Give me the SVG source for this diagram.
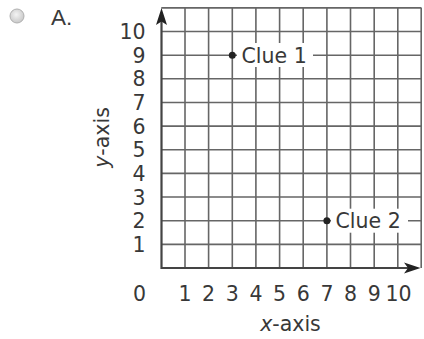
<svg xmlns="http://www.w3.org/2000/svg" width="424" height="339" viewBox="0 0 424 339">
<defs>
<radialGradient id="rg" cx="0.45" cy="0.4" r="0.6">
<stop offset="0" stop-color="#f4f4f4"/>
<stop offset="1" stop-color="#c8c8c8"/>
</radialGradient>
<style>
.g{stroke:#666;stroke-width:1.6;fill:none}
.ax{stroke:#444;stroke-width:2.2;fill:none}
.t{font-family:"DejaVu Sans",Verdana,sans-serif;font-size:20.5px;fill:#383838}
.ty{text-anchor:end}
.tx{text-anchor:middle}
</style>
</defs>
<rect width="424" height="339" fill="#fff"/>
<g id="option">
<circle cx="17" cy="16" r="7" fill="url(#rg)" stroke="#b0b0b0" stroke-width="1"/>
<text x="51" y="24.5" font-family="Liberation Sans,Arial,sans-serif" font-size="22.5" fill="#3a3a3a">A.</text>
</g>
<g id="grid">
<path class="g" d="M185,7.9V268M208.6,7.9V268M232.3,7.9V268M255.9,7.9V268M279.6,7.9V268M303.2,7.9V268M326.9,7.9V268M350.5,7.9V268M374.2,7.9V268M397.8,7.9V268M421.2,7.9V268"/>
<path class="g" d="M161.3,244.4H421.5M161.3,220.7H421.5M161.3,197H421.5M161.3,173.4H421.5M161.3,149.8H421.5M161.3,126.1H421.5M161.3,102.5H421.5M161.3,78.8H421.5M161.3,55.2H421.5M161.3,31.5H421.5M161.3,7.9H421.5"/>
</g>
<g id="axes">
<path class="ax" d="M161.5,269V18M160.5,268H410"/>
<path d="M161.5,8L167,25L161.5,21.5L156,25Z" fill="#222"/>
<path d="M420.5,268L404,262.5L408,268L404,273.5Z" fill="#222"/>
</g>
<g id="clue1">
<rect x="237" y="43" width="76" height="24" fill="#fff"/>
<circle cx="232.3" cy="55.2" r="3.5" fill="#222"/>
<text class="t" x="241.5" y="62.8">Clue 1</text>
</g>
<g id="clue2">
<rect x="331" y="208.7" width="77" height="24" fill="#fff"/>
<circle cx="326.9" cy="220.7" r="3.5" fill="#222"/>
<text class="t" x="335.5" y="228.3">Clue 2</text>
</g>
<g id="ylabels" class="t ty">
<text x="145.5" y="39">10</text>
<text x="145.5" y="62.7">9</text>
<text x="145.5" y="86.3">8</text>
<text x="145.5" y="110">7</text>
<text x="145.5" y="133.6">6</text>
<text x="145.5" y="157.3">5</text>
<text x="145.5" y="180.9">4</text>
<text x="145.5" y="204.5">3</text>
<text x="145.5" y="228.2">2</text>
<text x="145.5" y="251.9">1</text>
</g>
<g id="xlabels" class="t tx">
<text x="139.5" y="300.5">0</text>
<text x="185" y="300.5">1</text>
<text x="208.6" y="300.5">2</text>
<text x="232.3" y="300.5">3</text>
<text x="255.9" y="300.5">4</text>
<text x="279.6" y="300.5">5</text>
<text x="303.2" y="300.5">6</text>
<text x="326.9" y="300.5">7</text>
<text x="350.5" y="300.5">8</text>
<text x="374.2" y="300.5">9</text>
<text x="398.5" y="300.5">10</text>
</g>
<g id="titles" class="t">
<text x="290.5" y="331" text-anchor="middle"><tspan font-style="italic">x</tspan>-axis</text>
<text transform="translate(108.5,137.5) rotate(-90)" text-anchor="middle"><tspan font-style="italic">y</tspan>-axis</text>
</g>
</svg>
